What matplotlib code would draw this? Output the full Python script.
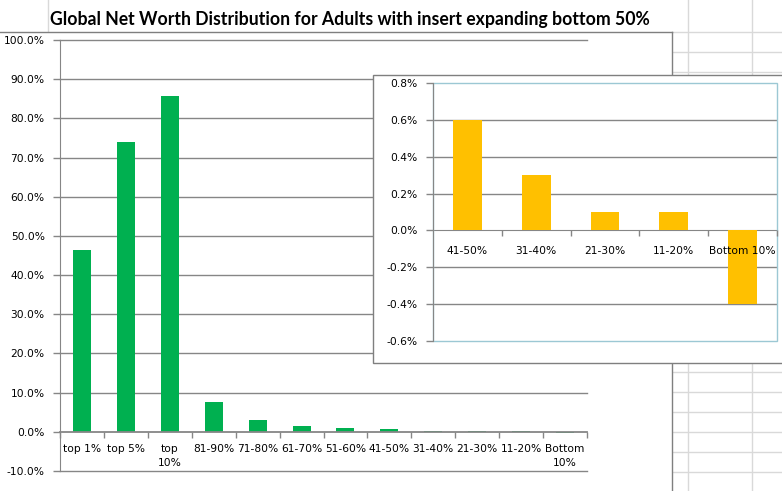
import matplotlib
matplotlib.use("Agg")
import matplotlib.pyplot as plt
from matplotlib.lines import Line2D
from matplotlib.patches import Rectangle
from matplotlib.ticker import FuncFormatter

W, H = 782, 491

# ---- data ----
main_categories = ["top 1%", "top 5%", "top\n10%", "81-90%", "71-80%", "61-70%",
                   "51-60%", "41-50%", "31-40%", "21-30%", "11-20%", "Bottom\n10%"]
main_values = [46.4, 74.0, 85.7, 7.7, 2.9, 1.6, 0.9, 0.6, 0.3, 0.1, 0.1, -0.4]
main_yticks = [-10, 0, 10, 20, 30, 40, 50, 60, 70, 80, 90, 100]

inset_categories = ["41-50%", "31-40%", "21-30%", "11-20%", "Bottom 10%"]
inset_values = [0.6, 0.3, 0.1, 0.1, -0.4]
inset_yticks = [-0.6, -0.4, -0.2, 0.0, 0.2, 0.4, 0.6, 0.8]

title = "Global Net Worth Distribution for Adults with insert expanding bottom 50%"

GREEN = "#00B050"
GOLD = "#FFC000"
GRID = "#868686"
CELL = "#D9D9D9"
BORDER = "#7F7F7F"
FRAME = "#9CC8D4"
TXT = "#000000"
TICKFONT = "DejaVu Sans"
TS = 7.7


def fx(px):
    return px / W


def fy(py):
    return 1 - py / H


fig = plt.figure(figsize=(W / 100, H / 100), dpi=100)
fig.patch.set_facecolor("white")

# ---- spreadsheet background lines ----
cell_lines = []
for x in (688, 752):
    cell_lines.append(((x, x), (0, H)))
cell_lines.append(((48, 48), (0, 31.5)))
for y in list(range(32, 80, 20)) + list(range(372, 492, 20)):
    cell_lines.append(((672, W), (y, y)))
for xs, ys in cell_lines:
    fig.add_artist(Line2D([fx(v) for v in xs], [fy(v) for v in ys],
                          color=CELL, lw=1.0, zorder=0))

# main chart border (top and right)
fig.add_artist(Rectangle((0, 0), fx(671.5), fy(32), facecolor="white", edgecolor="none", zorder=0.2))
fig.add_artist(Line2D([fx(0), fx(672)], [fy(31.5), fy(31.5)], color=BORDER, lw=1.0, zorder=0.5))
fig.add_artist(Line2D([fx(672), fx(672)], [fy(31.5), fy(H)], color=BORDER, lw=1.0, zorder=0.5))

# ---- title ----
fig.text(fx(50), fy(20), title, fontsize=12.7, fontweight="bold", family="Lato",
         color=TXT, ha="left", va="center")

# ---- main chart ----
ax = fig.add_axes([fx(60), fy(471), fx(587) - fx(60), fy(40) - fy(471)])
ax.set_zorder(1)
ax.patch.set_alpha(0)
xs = list(range(len(main_categories)))
ax.bar(xs, main_values, width=0.41, color=GREEN, zorder=3)
ax.set_xlim(-0.5, len(main_categories) - 0.5)
ax.set_ylim(main_yticks[0], main_yticks[-1])
for t in main_yticks:
    if t != 0:
        ax.axhline(t, color=GRID, lw=1.0, zorder=1, clip_on=False)
for s in ("top", "right"):
    ax.spines[s].set_visible(False)
ax.spines["left"].set_color(GRID)
ax.spines["bottom"].set_color(GRID)
ax.spines["bottom"].set_linewidth(1.3)
ax.spines["bottom"].set_position(("data", 0))
ax.spines["bottom"].set_zorder(4)
ax.set_yticks(main_yticks)
ax.yaxis.set_major_formatter(FuncFormatter(lambda v, p: f"{v:.1f}%"))
ax.tick_params(axis="y", direction="out", length=5, width=1, color=GRID,
               labelsize=TS, labelcolor=TXT, pad=6)
ax.set_xticks(xs)
ax.set_xticklabels(main_categories, linespacing=1.45)
ax.set_xticks([i + 0.5 for i in xs[:-1]] + [-0.5, len(xs) - 0.5], minor=True)
ax.tick_params(axis="x", which="major", length=0, labelsize=TS, labelcolor=TXT, pad=9)
ax.tick_params(axis="x", which="minor", direction="out", length=4, width=1, color=GRID)
for lab in ax.get_xticklabels() + ax.get_yticklabels():
    lab.set_family(TICKFONT)

# ---- inset box ----
fig.add_artist(Rectangle((fx(373), fy(363)), fx(W + 5) - fx(373), fy(75) - fy(363),
                         facecolor="white", edgecolor=BORDER, lw=1.0, zorder=2))

ax2 = fig.add_axes([fx(433), fy(341), fx(777) - fx(433), fy(83) - fy(341)])
ax2.set_zorder(3)
ax2.patch.set_alpha(0)
ixs = list(range(len(inset_categories)))
ax2.bar(ixs, inset_values, width=0.42, color=GOLD, zorder=3)
ax2.set_xlim(-0.5, len(inset_categories) - 0.5)
ax2.set_ylim(inset_yticks[0], inset_yticks[-1])
for t in inset_yticks[1:-1]:
    if t != 0:
        ax2.axhline(t, color=GRID, lw=1.0, zorder=1)
for s in ("top", "right"):
    ax2.spines[s].set_visible(False)
ax2.spines["left"].set_color(GRID)
ax2.spines["left"].set_zorder(5)
ax2.spines["bottom"].set_color(GRID)
ax2.spines["bottom"].set_position(("data", 0))
ax2.spines["bottom"].set_zorder(2)
ax2.add_patch(Rectangle((0, 0), 1, 1, transform=ax2.transAxes, facecolor="none",
                        edgecolor=FRAME, lw=1.0, zorder=4, clip_on=False))
ax2.set_yticks(inset_yticks)
ax2.yaxis.set_major_formatter(FuncFormatter(lambda v, p: f"{v:.1f}%"))
ax2.tick_params(axis="y", direction="out", length=5, width=1, color=GRID,
                labelsize=TS, labelcolor=TXT, pad=6)
ax2.set_xticks(ixs)
ax2.set_xticklabels(inset_categories)
ax2.set_xticks([i + 0.5 for i in ixs[:-1]] + [len(ixs) - 0.5], minor=True)
ax2.tick_params(axis="x", which="major", length=0, labelsize=TS, labelcolor=TXT, pad=11)
ax2.tick_params(axis="x", which="minor", direction="out", length=4, width=1, color=GRID)
ax2.xaxis.set_zorder(6)
ax2.yaxis.set_zorder(6)
for lab in ax2.get_xticklabels() + ax2.get_yticklabels():
    lab.set_family(TICKFONT)

fig.savefig("out.png", dpi=100, facecolor="white")
